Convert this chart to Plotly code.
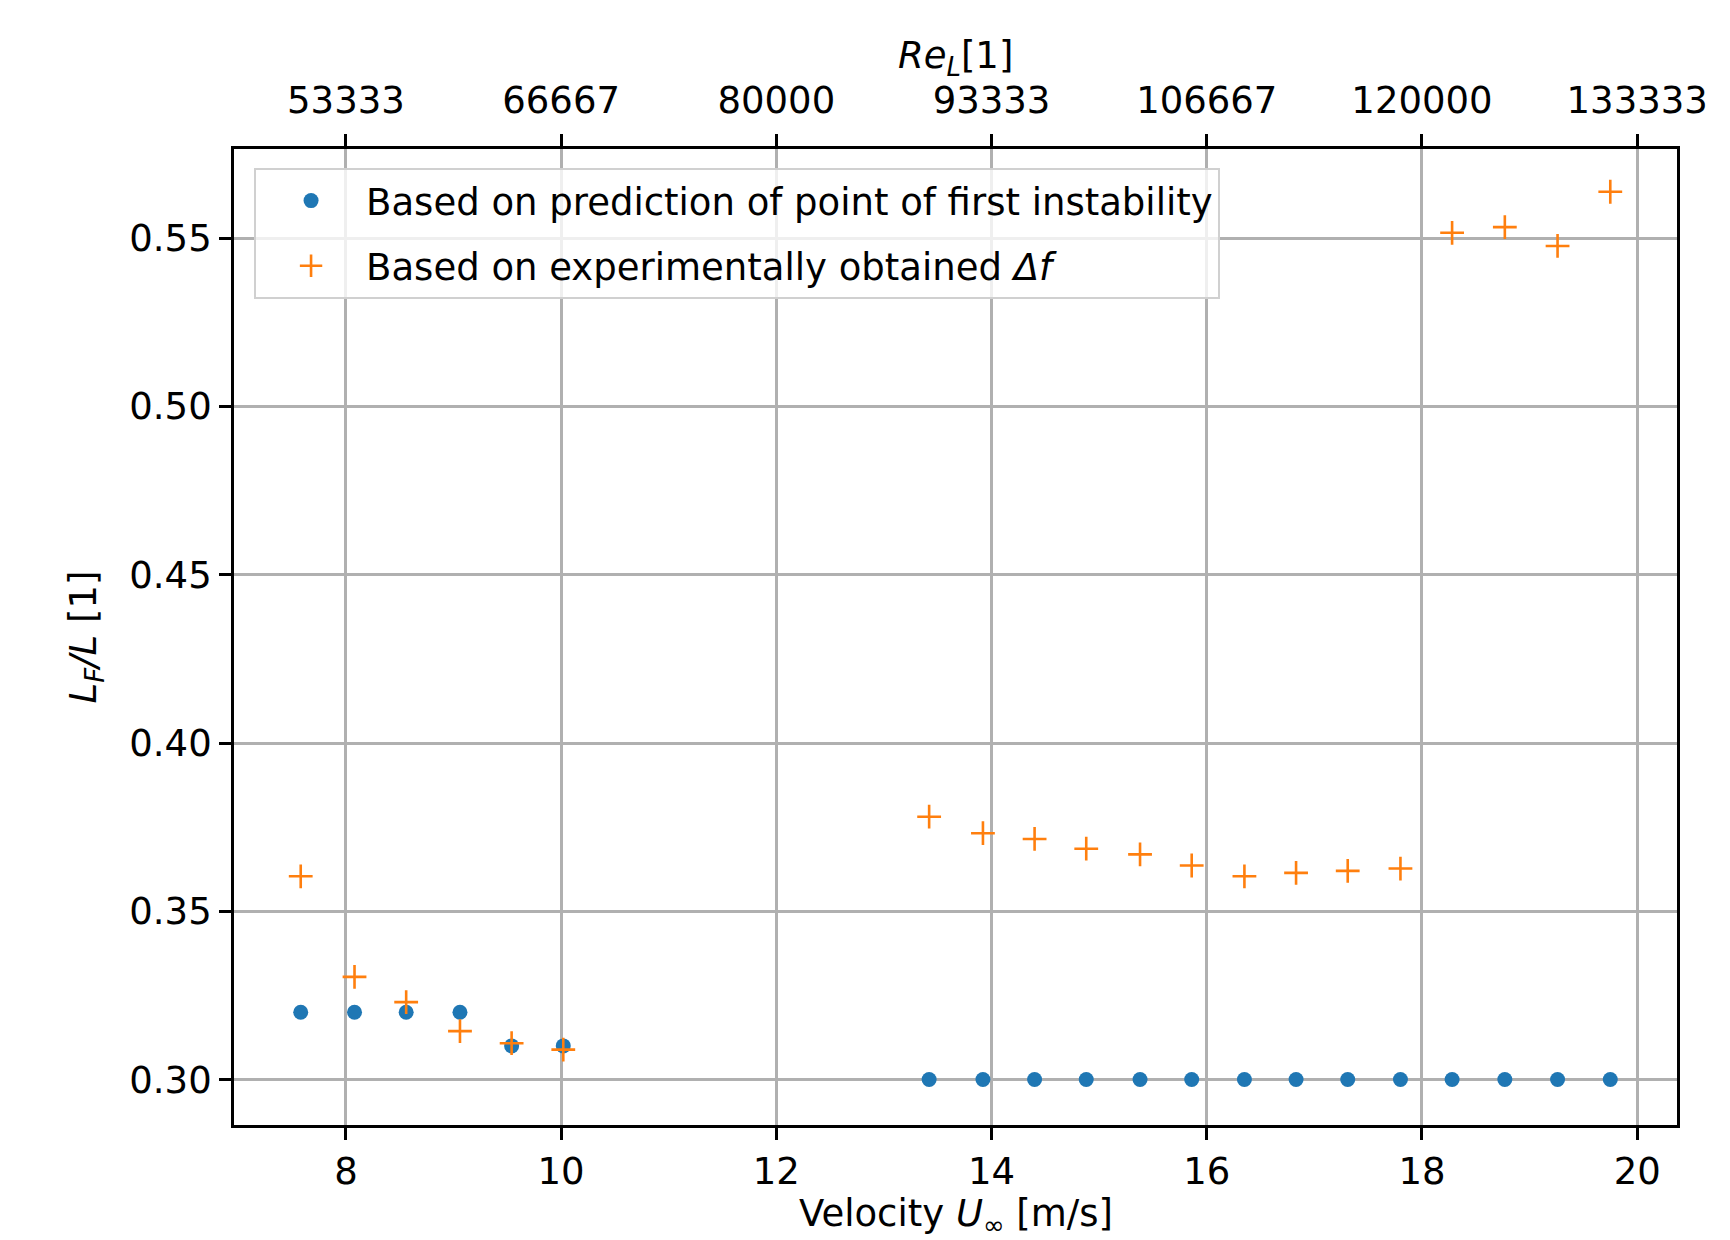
import plotly.graph_objects as go

# ---- data ----
u_first = [7.58, 8.08, 8.56, 9.06, 9.54, 10.02,
           13.42, 13.92, 14.40, 14.88, 15.38, 15.86, 16.35, 16.83, 17.31, 17.80,
           18.28, 18.77, 19.26, 19.75]
lf_first = [0.320, 0.320, 0.320, 0.320, 0.310, 0.310,
            0.300, 0.300, 0.300, 0.300, 0.300, 0.300, 0.300, 0.300, 0.300, 0.300,
            0.300, 0.300, 0.300, 0.300]

u_exp = [7.58, 8.08, 8.56, 9.06, 9.54, 10.02,
         13.42, 13.92, 14.40, 14.88, 15.38, 15.86, 16.35, 16.83, 17.31, 17.80,
         18.28, 18.77, 19.26, 19.75]
lf_exp = [0.3604, 0.3305, 0.3230, 0.3144, 0.3108, 0.3089,
          0.3781, 0.3732, 0.3715, 0.3686, 0.3669, 0.3636, 0.3604, 0.3614, 0.3620, 0.3627,
          0.5516, 0.5533, 0.5477, 0.5638]

u_ticks = [8, 10, 12, 14, 16, 18, 20]
re_ticks = [53333, 66667, 80000, 93333, 106667, 120000, 133333]
re_tick_labels = ["53333", "66667", "80000", "93333", "106667", "120000", "133333"]
y_ticks = [0.30, 0.35, 0.40, 0.45, 0.50, 0.55]
y_tick_labels = ["0.30", "0.35", "0.40", "0.45", "0.50", "0.55"]

RE_PER_U = 20000.0 / 3.0  # Re_L per m/s
x_range = [6.96, 20.37]
y_range = [0.2865, 0.5765]

FONT = "DejaVu Sans"
FS = 37
BLUE = "#1f77b4"
ORANGE = "#ff7f0e"
GRID = "#b0b0b0"

fig = go.Figure()
fig.add_trace(go.Scatter(
    x=u_first, y=lf_first, mode="markers", legendgroup="a",
    name="Based on prediction of point of first instability",
    marker=dict(symbol="circle", size=15, color=BLUE),
))
fig.add_trace(go.Scatter(
    x=u_exp, y=lf_exp, mode="markers", legendgroup="b",
    name="Based on experimentally obtained <i>Δf</i>",
    marker=dict(symbol="cross-thin", size=17, color=ORANGE,
                line=dict(color=ORANGE, width=2.6)),
))
# invisible trace to anchor the top Re axis
fig.add_trace(go.Scatter(
    x=[u * RE_PER_U for u in u_first], y=lf_first, xaxis="x2", mode="markers",
    marker=dict(opacity=0), showlegend=False, hoverinfo="skip",
))

axis_common = dict(
    showline=True, linecolor="black", linewidth=2.8,
    ticks="outside", ticklen=12, tickwidth=2.8, tickcolor="black",
    tickfont=dict(family=FONT, size=FS, color="black"),
    zeroline=False, automargin=False,
)

title_font = dict(family=FONT, size=FS, color="black")

fig.update_layout(
    width=1730, height=1240,
    margin=dict(l=234, r=53, t=149, b=115),
    paper_bgcolor="white", plot_bgcolor="white",
    font=dict(family=FONT, size=FS, color="black"),
    xaxis=dict(
        range=x_range, tickvals=u_ticks, ticktext=[str(t) for t in u_ticks],
        showgrid=True, gridcolor=GRID, gridwidth=2.6, mirror=True,
        **axis_common,
    ),
    xaxis2=dict(
        overlaying="x", side="top", anchor="y",
        range=[x_range[0] * RE_PER_U, x_range[1] * RE_PER_U],
        tickvals=re_ticks, ticktext=re_tick_labels, showgrid=False,
        ticklabelstandoff=6,
        **axis_common,
    ),
    yaxis=dict(
        range=y_range, tickvals=y_ticks, ticktext=y_tick_labels,
        showgrid=True, gridcolor=GRID, gridwidth=2.6, mirror=True,
        **axis_common,
    ),
    legend=dict(
        x=0.0139, y=0.9805, xanchor="left", yanchor="top",
        bgcolor="rgba(255,255,255,0.8)", bordercolor="#d0d0d0", borderwidth=2,
        font=dict(family=FONT, size=FS, color="black"),
        itemwidth=100, tracegroupgap=14,
    ),
    showlegend=True,
    annotations=[
        dict(text="Velocity <i>U</i><sub>∞</sub> [m/s]", xref="paper", yref="paper",
             x=0.5, y=-0.0932, xanchor="center", yanchor="middle",
             showarrow=False, font=title_font),
        dict(text="<i>L</i><sub><i>F</i></sub><i>/L</i> [1]", xref="paper", yref="paper",
             x=-0.1023, y=0.5, xanchor="center", yanchor="middle", textangle=-90,
             showarrow=False, font=title_font),
        dict(text="<i>Re</i><sub><i>L</i></sub>[1]", xref="paper", yref="paper",
             x=0.5, y=1.0929, xanchor="center", yanchor="middle",
             showarrow=False, font=title_font),
    ],
)

fig.write_html("out.html")
